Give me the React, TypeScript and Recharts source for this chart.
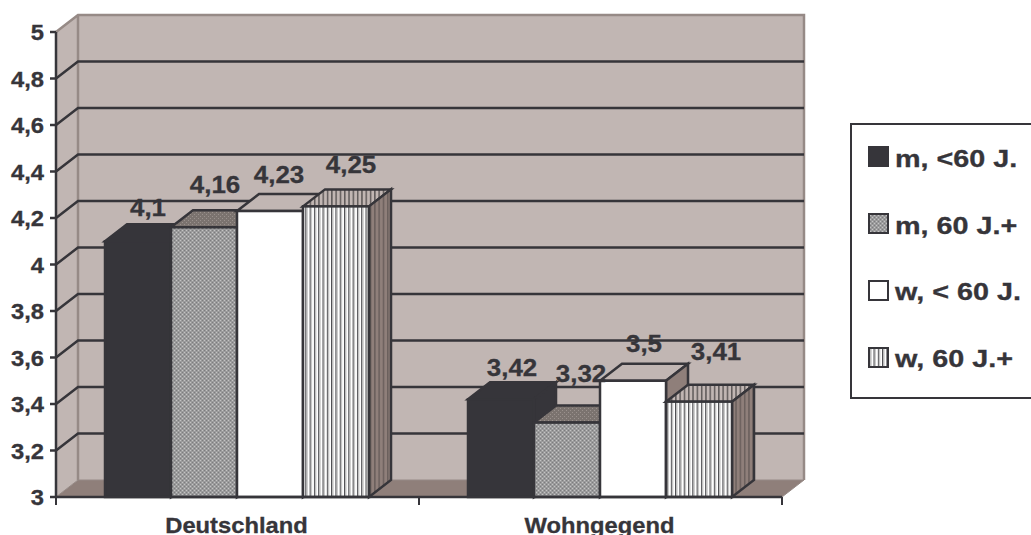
import { Bar, BarChart, CartesianGrid, Legend, XAxis, YAxis, usePlotArea } from "recharts";

const categories = ["Deutschland", "Wohngegend"];
const seriesNames = ["m, <60 J.", "m, 60 J.+", "w, < 60 J.", "w, 60 J.+"];
const menUnder60 = [4.1, 3.42];
const menOver60 = [4.16, 3.32];
const womenUnder60 = [4.23, 3.5];
const womenOver60 = [4.25, 3.41];
const yTicks = [3, 3.2, 3.4, 3.6, 3.8, 4, 4.2, 4.4, 4.6, 4.8, 5];

const data = categories.map((name, i) => ({
  name,
  a: menUnder60[i],
  b: menOver60[i],
  c: womenUnder60[i],
  d: womenOver60[i],
}));

const INK = "#36353a";
const WALL = "#c1b6b3";
const WALL_EDGE = "#968a86";
const FLOOR = "#8f7f7a";
const DX = 22;
const DY = -17;
const FONT = "'Liberation Sans', Arial, sans-serif";

// face fills per series: front, top, side
const faces = [
  { front: INK, top: INK, side: INK },
  { front: "url(#dots)", top: "url(#dotsDark)", side: "url(#dotsDark)" },
  { front: "#ffffff", top: WALL, side: FLOOR },
  { front: "url(#stripes)", top: "url(#stripesWall)", side: "url(#stripesFloor)" },
];

// label nudges per series and category, the labels sit by hand in the original
const labelNudge = [
  [[10, -25], [11, -23]],
  [[11, -34], [14, -41]],
  [[9, -28], [11, -29]],
  [[15, -33], [17, -42]],
];

const comma = (v: number) => String(v).replace(".", ",");

function WideText({ x, y, size, anchor = "middle", stretch = 1.08, children }: any) {
  return (
    <text
      transform={`translate(${x},${y}) scale(${stretch},1)`}
      textAnchor={anchor}
      fontFamily={FONT}
      fontWeight="bold"
      fontSize={size}
      fill={INK}
      stroke={INK}
      strokeWidth={0.3}
    >
      {children}
    </text>
  );
}

function Box(props: any) {
  const { x, y, width, height, face } = props;
  const r = x + width;
  const b = y + height;
  const f = faces[face];
  return (
    <g stroke={INK} strokeWidth={2.5} strokeLinejoin="miter">
      <path d={`M${x},${y} l${DX},${DY} h${width} l${-DX},${-DY} z`} fill={f.top} />
      <path d={`M${r},${y} l${DX},${DY} V${b + DY} l${-DX},${-DY} z`} fill={f.side} />
      <rect x={x} y={y} width={width} height={height} fill={f.front} />
    </g>
  );
}

function BarLabel(props: any) {
  const { x, y, width, value, index, series } = props;
  const [nx, ny] = labelNudge[series][index];
  return (
    <WideText x={x + width / 2 + nx} y={y + ny} size={24}>
      {comma(value)}
    </WideText>
  );
}

function Walls() {
  const plot = usePlotArea();
  if (!plot) return null;
  const { x, y, width, height } = plot;
  const b = y + height;
  return (
    <g>
      <path d={`M${x},${y} l${DX},${DY} H${x + width + DX} V${b + DY} H${x + DX} L${x},${b} z`} fill={WALL} />
      <path d={`M${x},${b} l${DX},${DY} H${x + width + DX} l${-DX},${-DY} z`} fill={FLOOR} stroke={WALL_EDGE} strokeWidth={1} />
      <path
        d={`M${x},${y} l${DX},${DY} H${x + width + DX} V${b + DY} M${x + DX},${y + DY} V${b + DY}`}
        fill="none"
        stroke={WALL_EDGE}
        strokeWidth={2.5}
      />
    </g>
  );
}

function GridLine({ x1, y1, x2 }: any) {
  // the top and bottom lines are the wall edge and the floor, not grid
  if (y1 <= 33 || y1 >= 496) return null;
  return (
    <path
      d={`M${x1},${y1} l${DX},${DY} H${x2 + DX}`}
      fill="none"
      stroke={INK}
      strokeWidth={2.5}
    />
  );
}

function CategoryTick({ x, y, payload }: any) {
  const half = 181.5;
  return (
    <g>
      <path d={`M${x - half},${y - 8} v8 M${x + half},${y - 8} v8`} stroke={INK} strokeWidth={2} fill="none" />
      <WideText x={x - 1} y={y + 28} size={22}>
        {payload.value}
      </WideText>
    </g>
  );
}

function ValueTick({ x, y, payload }: any) {
  return (
    <WideText x={x - 4} y={y + 8} size={22} anchor="end">
      {comma(payload.value)}
    </WideText>
  );
}

function LegendBox() {
  return (
    <div
      style={{
        width: 182,
        height: 272,
        border: `2.5px solid ${INK}`,
        borderRight: "none",
        boxSizing: "content-box",
        background: "#fff",
      }}
    >
      <svg width={182} height={272} style={{ display: "block" }}>
        {seriesNames.map((name, i) => (
          <g key={name}>
            <rect
              x={17}
              y={22 + i * 67}
              width={19}
              height={19}
              fill={faces[i].front}
              stroke={INK}
              strokeWidth={2}
            />
            <WideText x={43} y={42 + i * 66.7} size={23} stretch={1.25} anchor="start">
              {name}
            </WideText>
          </g>
        ))}
      </svg>
    </div>
  );
}

export default function App() {
  return (
    <div style={{ position: "absolute", left: 0, top: 0, width: 1031, height: 535, overflow: "hidden" }}>
      <BarChart
        width={1031}
        height={535}
        data={data}
        margin={{ top: 32, right: 65, bottom: 0, left: 0 }}
        barCategoryGap="13.5%"
        barGap={0}
      >
        <defs>
          <pattern id="dots" width={4} height={4} patternUnits="userSpaceOnUse">
            <rect width={4} height={4} fill="#9b9b9c" />
            <rect x={0} y={0} width={1} height={1} fill="#c4c4c4" />
            <rect x={2} y={2} width={1} height={1} fill="#c4c4c4" />
            <rect x={2} y={0} width={1} height={1} fill="#7c7c7e" />
            <rect x={0} y={2} width={1} height={1} fill="#7c7c7e" />
          </pattern>
          <pattern id="dotsDark" width={4} height={4} patternUnits="userSpaceOnUse">
            <rect width={4} height={4} fill="#7b736f" />
            <rect x={0} y={0} width={1} height={1} fill="#9a918d" />
            <rect x={2} y={2} width={1} height={1} fill="#9a918d" />
          </pattern>
          <pattern id="stripes" width={4.3} height={4} patternUnits="userSpaceOnUse">
            <rect width={4.3} height={4} fill="#ffffff" />
            <rect x={0} width={1} height={4} fill="#4a4a4e" />
            <rect x={1} width={1.3} height={4} fill="#b4b4b4" />
          </pattern>
          <pattern id="stripesWall" width={4.3} height={4} patternUnits="userSpaceOnUse">
            <rect width={4.3} height={4} fill={WALL} />
            <rect x={0} width={1.5} height={4} fill="#5f5a5a" />
          </pattern>
          <pattern id="stripesFloor" width={4.3} height={4} patternUnits="userSpaceOnUse">
            <rect width={4.3} height={4} fill={FLOOR} />
            <rect x={0} width={1.5} height={4} fill="#6a5f5c" />
          </pattern>
        </defs>
        <Walls />
        <CartesianGrid vertical={false} horizontal={GridLine as any} zIndex={50} />
        <XAxis
          dataKey="name"
          height={38}
          interval={0}
          tickLine={false}
          axisLine={{ stroke: INK, strokeWidth: 2.5 }}
          tick={CategoryTick as any}
        />
        <YAxis
          width={56}
          domain={[3, 5]}
          ticks={yTicks}
          interval={0}
          tickLine={{ stroke: INK, strokeWidth: 2.5 }}
          tickSize={6}
          axisLine={{ stroke: INK, strokeWidth: 2.5 }}
          tick={ValueTick as any}
        />
        <Legend
          content={LegendBox as any}
          layout="vertical"
          align="right"
          verticalAlign="middle"
          wrapperStyle={{ position: "absolute", left: 850, right: "auto", top: 123, width: 184, height: 274 }}
        />
        {(["a", "b", "c", "d"] as const).map((key, i) => (
          <Bar
            key={key}
            dataKey={key}
            name={seriesNames[i]}
            isAnimationActive={false}
            shape={(p: any) => <Box {...p} face={i} />}
            label={(p: any) => <BarLabel {...p} series={i} />}
          />
        ))}
      </BarChart>
    </div>
  );
}
